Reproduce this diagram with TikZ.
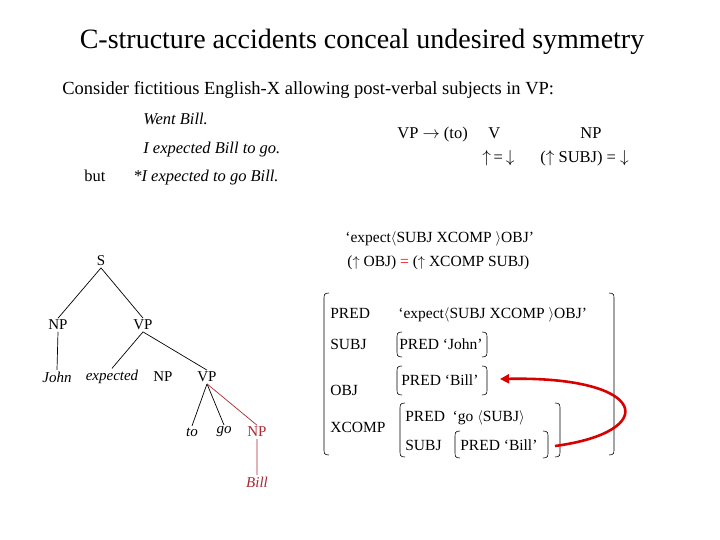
\documentclass[tikz,border=0pt]{standalone}
\usepackage{fontspec}
\setmainfont{Liberation Serif}
\usetikzlibrary{arrows.meta}
\definecolor{dred}{RGB}{170,40,50}
\begin{document}
\begin{tikzpicture}[x=1pt,y=-1pt,line width=0.7pt,
  t/.style={inner sep=0pt,anchor=base west,font=\fontsize{15.5}{17}\selectfont},
  tr/.style={inner sep=1.5pt,font=\fontsize{15}{17}\selectfont},
  br/.style={line width=0.6pt}]
\useasboundingbox (0,0) rectangle (720,540);
\node[inner sep=0pt,font=\fontsize{28}{30}\selectfont] (title) at (362,42) {C-structure accidents conceal undesired symmetry};
\node[t,font=\fontsize{18.5}{20}\selectfont] (cons) at (62,95) {Consider fictitious English-X allowing post-verbal subjects in VP:};
\node[t,font=\fontsize{16.5}{18}\selectfont\itshape] (e1) at (143,125) {Went Bill.};
\node[t,font=\fontsize{16.5}{18}\selectfont\itshape] (e2) at (143,154) {I expected Bill to go.};
\node[t,font=\fontsize{16.5}{18}\selectfont] (but) at (84,182) {but};
\node[t,font=\fontsize{16.5}{18}\selectfont\itshape] (e3) at (133,182) {*I expected to go Bill.};
\node[t,font=\fontsize{16.5}{18}\selectfont] (rule) at (397,139) {VP $\rightarrow$ (to)\quad\ V};
\node[t,font=\fontsize{16.5}{18}\selectfont] (rnp) at (580,139) {NP};
\node[t,font=\fontsize{16.5}{18}\selectfont] (a1) at (482,163) {$\uparrow$\,=\,$\downarrow$};
\node[t,font=\fontsize{16.5}{18}\selectfont] (a2) at (540,163) {($\uparrow$ SUBJ) = $\downarrow$};
\node[t] (lex) at (345,243) {`expect$\langle$SUBJ XCOMP $\rangle$OBJ'};
\node[t] (eq) at (347,266) {($\uparrow$ OBJ) \textcolor{red}{=} ($\uparrow$ XCOMP SUBJ)};
% tree
\node[tr] (S) at (101,261) {S};
\node[tr] (NP1) at (58,325) {NP};
\node[tr] (VP1) at (143,325) {VP};
\node[tr,font=\fontsize{15}{17}\selectfont\itshape] (john) at (57,377) {John};
\node[tr,font=\fontsize{15}{17}\selectfont\itshape] (exp) at (112,377) {expected};
\node[tr] (NP2) at (163,377) {NP};
\node[tr] (VP2) at (207,377) {VP};
\node[tr,font=\fontsize{15}{17}\selectfont\itshape] (to) at (192,432) {to};
\node[tr,font=\fontsize{15}{17}\selectfont\itshape] (go) at (224,432) {go};
\node[tr,text=dred] (NP3) at (257,432) {NP};
\node[tr,text=dred,font=\fontsize{15}{17}\selectfont\itshape] (bill) at (257,482) {Bill};
\draw (S.south) -- (NP1.north) (S.south) -- (VP1.north);
\draw (NP1.south) -- (john.north);
\draw (VP1.south) -- (exp.north) (VP1.south) -- (VP2.north);
\draw (VP2.south) -- (to.north) (VP2.south) -- (go.north);
\draw[dred] (VP2.south) -- (NP3.north) (NP3.south) -- (bill.north);
% f-structure
\node[t] (p1) at (330,318) {PRED};
\node[t] (s1) at (330,349) {SUBJ};
\node[t] (o1) at (330,395) {OBJ};
\node[t] (x1) at (330,432) {XCOMP};
\node[t] (v1) at (398,318) {`expect$\langle$SUBJ XCOMP $\rangle$OBJ'};
\node[t] (v2) at (399,349) {PRED `John'};
\node[t] (v3) at (401,385) {PRED `Bill'};
\node[t] (v4) at (405,421) {PRED\ \ `go $\langle$SUBJ$\rangle$};
\node[t] (v5) at (405,450) {SUBJ};
\node[t] (v6) at (460,450) {PRED `Bill'};
\newcommand\fbr[4]{%
 \draw[br] (#1+5,#2) .. controls (#1,#2) and (#1,#2+2) .. (#1,#2+6) -- (#1,#4-6) .. controls (#1,#4-2) and (#1,#4) .. (#1+5,#4);
 \draw[br] (#3-5,#2) .. controls (#3,#2) and (#3,#2+2) .. (#3,#2+6) -- (#3,#4-6) .. controls (#3,#4-2) and (#3,#4) .. (#3-5,#4);}
\fbr{324}{293}{614}{455}
\fbr{397}{332}{487}{357}
\fbr{397}{366}{487}{395}
\fbr{400}{403}{560}{457}
\fbr{455}{431}{548}{458}
\coordinate (cs) at (555,446);
\coordinate (ce) at (500,379);
\draw[red!85!black,line width=2.6pt,-{Triangle[length=9pt,width=9pt]}] (cs) .. controls (660,432) and (650,376) .. (ce);
\end{tikzpicture}
\end{document}
